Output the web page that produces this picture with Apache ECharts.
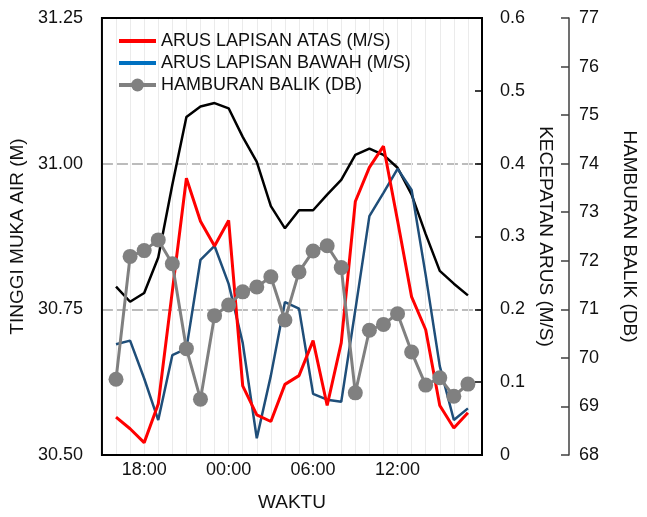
<!DOCTYPE html>
<html>
<head>
<meta charset="utf-8">
<script src="https://cdn.jsdelivr.net/npm/echarts@6/dist/echarts.min.js"></script>
<style>
html,body{margin:0;padding:0;background:#fff;}
#chart{width:647px;height:517px;}
</style>
</head>
<body>
<div id="chart"></div>
<script>
const hours = ['16:00','17:00','18:00','19:00','20:00','21:00','22:00','23:00',
  '00:00','01:00','02:00','03:00','04:00','05:00','06:00','07:00','08:00','09:00',
  '10:00','11:00','12:00','13:00','14:00','15:00','16:00','17:00'];
const shownTimeLabels = ['18:00','00:00','06:00','12:00'];

const waterLevel = [30.789, 30.763, 30.778, 30.839, 30.964, 31.080, 31.098, 31.104, 31.095, 31.046,
  31.003, 30.927, 30.889, 30.920, 30.920, 30.947, 30.972, 31.015, 31.026, 31.015,
  30.993, 30.947, 30.879, 30.816, 30.794, 30.774];
const upperCurrent = [0.052, 0.036, 0.017, 0.070, 0.225, 0.380, 0.321, 0.287, 0.322, 0.095,
  0.055, 0.046, 0.097, 0.109, 0.157, 0.068, 0.154, 0.348, 0.395, 0.424,
  0.322, 0.217, 0.172, 0.068, 0.037, 0.058];
const lowerCurrent = [0.152, 0.157, 0.105, 0.048, 0.137, 0.146, 0.268, 0.287, 0.235, 0.154,
  0.023, 0.109, 0.210, 0.201, 0.084, 0.076, 0.073, 0.199, 0.328, 0.360,
  0.393, 0.364, 0.247, 0.122, 0.048, 0.064];
const backscatter = [69.56, 72.09, 72.21, 72.43, 71.94, 70.19, 69.15, 70.87, 71.09, 71.36,
  71.46, 71.67, 70.78, 71.77, 72.20, 72.31, 71.86, 69.28, 70.57, 70.69,
  70.91, 70.12, 69.44, 69.59, 69.21, 69.46];

const seriesNames = ['ARUS LAPISAN ATAS (M/S)', 'ARUS LAPISAN BAWAH (M/S)', 'HAMBURAN BALIK (DB)'];
const axisNames = { x: 'WAKTU', level: 'TINGGI MUKA AIR (M)', speed: 'KECEPATAN ARUS (M/S)', db: 'HAMBURAN BALIK (DB)' };

// pad one empty slot at each end of the time axis
const cats = [''].concat(hours, ['']);
const pad = arr => [null].concat(arr, [null]);

const FONT = 'Liberation Sans, Arial, sans-serif';
const TXT = '#111';

const chart = echarts.init(document.getElementById('chart'), null, { renderer: 'canvas' });
chart.setOption({
  animation: false,
  backgroundColor: '#fff',
  textStyle: { fontFamily: FONT },
  grid: { left: 101, right: 154, top: 18, bottom: 57, show: true, borderColor: '#000', borderWidth: 2, backgroundColor: 'transparent', z: 10 },
  legend: {
    orient: 'vertical', left: 112, top: 27, itemWidth: 37, itemHeight: 16, itemGap: 4,
    textStyle: { fontSize: 18, color: TXT, fontFamily: FONT },
    data: [
      { name: seriesNames[0], itemStyle: { opacity: 0 }, lineStyle: { color: '#ff0000', width: 4 } },
      { name: seriesNames[1], itemStyle: { opacity: 0 }, lineStyle: { color: '#0070c0', width: 4 } },
      { name: seriesNames[2], lineStyle: { color: '#808080', width: 4 } }
    ]
  },
  xAxis: {
    type: 'category', data: cats, boundaryGap: false,
    name: axisNames.x, nameLocation: 'middle', nameGap: 38,
    nameTextStyle: { fontSize: 19, color: TXT },
    axisLine: { show: false }, axisTick: { show: false },
    axisLabel: { interval: (i, v) => shownTimeLabels.indexOf(v) >= 0, fontSize: 18, color: TXT, margin: 6 },
    splitLine: { show: true, interval: 0, lineStyle: { color: '#ebebeb', width: 1 } }
  },
  yAxis: [
    {
      type: 'value', min: 30.5, max: 31.25, interval: 0.25, position: 'left',
      name: axisNames.level, nameLocation: 'middle', nameGap: 68, nameRotate: 90,
      nameTextStyle: { fontSize: 19, color: TXT },
      axisLine: { show: false }, axisTick: { show: false },
      axisLabel: { fontSize: 18, color: TXT, margin: 19, formatter: v => v.toFixed(2) },
      splitLine: { show: true, lineStyle: { color: '#a6a6a6', width: 1.5, type: [11, 4] } }
    },
    {
      type: 'value', min: 0, max: 0.6, interval: 0.1, position: 'right',
      name: axisNames.speed, nameLocation: 'middle', nameGap: 50, nameRotate: -90,
      nameTextStyle: { fontSize: 19, color: TXT },
      axisLine: { show: false },
      axisTick: { show: true, inside: true, length: 7, lineStyle: { color: '#000', width: 1.5 } },
      axisLabel: { fontSize: 18, color: TXT, margin: 18, formatter: v => v === 0 ? '0' : v.toFixed(1) },
      splitLine: { show: false }
    },
    {
      type: 'value', min: 68, max: 77, interval: 1, position: 'right', offset: 87,
      name: axisNames.db, nameLocation: 'middle', nameGap: 51, nameRotate: -90,
      nameTextStyle: { fontSize: 19, color: TXT },
      axisLine: { show: true, lineStyle: { color: '#404040', width: 1.5 } },
      axisTick: { show: true, inside: true, length: 8, lineStyle: { color: '#404040', width: 1.5 } },
      axisLabel: { fontSize: 18, color: TXT, margin: 10 },
      splitLine: { show: false }
    }
  ],
  series: [
    {
      name: 'TINGGI MUKA AIR (M)', type: 'line', yAxisIndex: 0, data: pad(waterLevel),
      symbol: 'none', lineStyle: { color: '#000', width: 2.5 }, itemStyle: { color: '#000' }, z: 2
    },
    {
      name: seriesNames[0], type: 'line', yAxisIndex: 1, data: pad(upperCurrent),
      symbol: 'none', lineStyle: { color: '#ff0000', width: 3 }, itemStyle: { color: '#ff0000' }, z: 4
    },
    {
      name: seriesNames[1], type: 'line', yAxisIndex: 1, data: pad(lowerCurrent),
      symbol: 'none', lineStyle: { color: '#1f4e79', width: 2.5 }, itemStyle: { color: '#1f4e79' }, z: 3
    },
    {
      name: seriesNames[2], type: 'line', yAxisIndex: 2, data: pad(backscatter),
      symbol: 'circle', symbolSize: 15, showSymbol: true, showAllSymbol: true,
      lineStyle: { color: '#808080', width: 3 }, itemStyle: { color: '#808080' }, z: 5
    }
  ]
});
</script>
</body>
</html>
